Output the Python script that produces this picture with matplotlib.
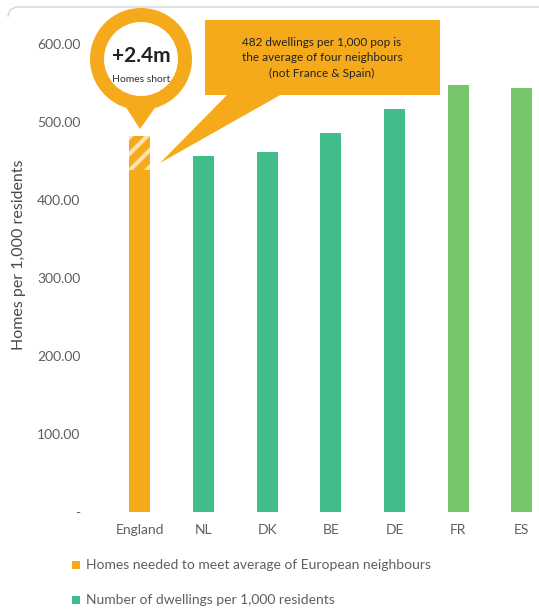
import numpy as np
import matplotlib
matplotlib.use("Agg")
import matplotlib.pyplot as plt
from matplotlib.patches import Circle, Polygon, Rectangle
from matplotlib.lines import Line2D

plt.rcParams['font.family'] = ['Lato', 'DejaVu Sans']
plt.rcParams['hatch.linewidth'] = 3.0

# dwellings per 1,000 residents
countries = ['England', 'NL', 'DK', 'BE', 'DE', 'FR', 'ES']
dwellings = [438, 456, 462, 486, 517, 547, 544]
neighbour_avg = 482  # mean of NL, DK, BE, DE
yticks = [0, 100, 200, 300, 400, 500, 600]

orange = '#F5AA1C'
teal = '#41BD8C'
light_green = '#78C66C'
bar_colors = [orange, teal, teal, teal, teal, light_green, light_green]
grey_txt = '#5f5f5f'

W, H = 539, 610
fig = plt.figure(figsize=(W / 100, H / 100), dpi=100)
ax = fig.add_axes([108 / W, (H - 512) / H, 431 / W, 468 / H])

x = np.arange(len(countries))
ax.bar(x, dwellings, width=0.33, color=bar_colors, zorder=2)
# gap between England and the neighbour average, hatched
ax.bar(x[0], neighbour_avg - dwellings[0], bottom=dwellings[0], width=0.33,
       facecolor=orange, edgecolor='#FBE3B0', hatch='//', linewidth=0, zorder=2)

ax.set_xlim(-0.5, 6.27)
ax.set_ylim(0, 600)
ax.set_xticks(x)
ax.set_xticklabels(countries, fontsize=10, color=grey_txt)
ax.set_yticks(yticks)
ax.set_yticklabels(['-'] + [f'{v:.2f}' for v in yticks[1:]], fontsize=10, color=grey_txt)
ax.tick_params(length=0)
ax.tick_params(axis='y', pad=20)
ax.tick_params(axis='x', pad=9)
for s in ax.spines.values():
    s.set_visible(False)
ax.set_ylabel('Homes per 1,000 residents', fontsize=11.5, color='#4a4a4a')
ax.yaxis.set_label_coords(-0.19, 0.55)


def px(xp, yp):
    # pixel position (from top-left) -> inches for dpi_scale_trans
    return (xp / 100, (H - yp) / 100)


tr = fig.dpi_scale_trans

# light frame edge along the top
fig.add_artist(Line2D([0.08, 0.10, 0.16, 5.39], [(H - 16) / 100, (H - 10) / 100, (H - 7) / 100, (H - 7) / 100],
                      transform=tr, color='#D6DCE0', lw=1.2))

# pin marker with the shortfall figure
fig.add_artist(Polygon([px(118, 95), px(164, 95), px(140, 129)], closed=True,
                       transform=tr, facecolor=orange, edgecolor='none'))
fig.add_artist(Circle(px(141, 59), 0.51, transform=tr, facecolor=orange, edgecolor='none'))
fig.add_artist(Circle(px(141, 59), 0.37, transform=tr, facecolor='white', edgecolor='none'))
fig.text(141 / W, 1 - 56 / H, '+2.4m', ha='center', va='center', fontsize=15,
         fontweight='bold', color='#222222')
fig.text(141 / W, 1 - 80 / H, 'Homes short', ha='center', va='center', fontsize=7.5,
         color='#333333')

# callout box
fig.add_artist(Polygon([px(228, 94), px(282, 94), px(160, 163)], closed=True,
                       transform=tr, facecolor=orange, edgecolor='none'))
fig.add_artist(Rectangle(px(205, 95), 2.35, 0.75, transform=tr, facecolor=orange,
                         edgecolor='none'))
fig.text(322 / W, 1 - 58 / H,
         f'{neighbour_avg} dwellings per 1,000 pop is\nthe average of four neighbours\n(not France & Spain)',
         ha='center', va='center', fontsize=8.5, color='#222222', linespacing=1.55)

# legend
fig.add_artist(Rectangle(px(72, 569), 0.08, 0.08, transform=tr, facecolor=orange, edgecolor='none'))
fig.text(86 / W, 1 - 565 / H, 'Homes needed to meet average of European neighbours',
         ha='left', va='center', fontsize=10, color=grey_txt)
fig.add_artist(Rectangle(px(72, 604), 0.08, 0.08, transform=tr, facecolor=teal, edgecolor='none'))
fig.text(86 / W, 1 - 600 / H, 'Number of dwellings per 1,000 residents',
         ha='left', va='center', fontsize=10, color=grey_txt)

fig.savefig('out.png', dpi=100)
